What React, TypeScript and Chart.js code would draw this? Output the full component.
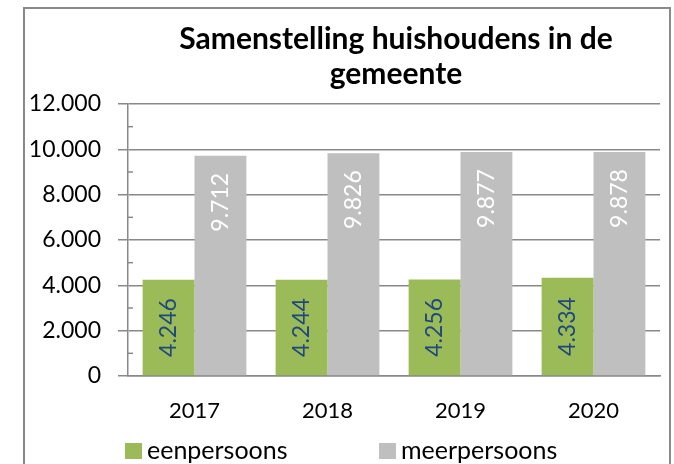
import React, { useEffect, useRef } from 'react';
import { Chart, registerables } from 'chart.js';

Chart.register(...registerables);

const categories = ['2017', '2018', '2019', '2020'];
const eenpersoons = [4246, 4244, 4256, 4334];
const meerpersoons = [9712, 9826, 9877, 9878];
const seriesLabels = ['eenpersoons', 'meerpersoons'];
const titleLines = ['Samenstelling huishoudens in de', 'gemeente'];
const yMin = 0;
const yMax = 12000;
const yStep = 2000;

const FONT = 'Lato, "Noto Sans", sans-serif';
const GREEN = '#9BBB59';
const GREY = '#BFBFBF';
const AXIS = '#898989';

const fmt = (v: number) => String(v).replace(/\B(?=(\d{3})+(?!\d))/g, '.');

const titlePlugin = {
  id: 'customTitle',
  afterDraw(chart: any) {
    const { ctx, chartArea } = chart;
    ctx.save();
    ctx.font = `bold 30px ${FONT}`;
    ctx.fillStyle = '#000';
    ctx.textAlign = 'center';
    ctx.textBaseline = 'alphabetic';
    const cx = (chartArea.left + chartArea.right) / 2 + 2;
    ctx.fillText(titleLines[0], cx, 49);
    ctx.fillText(titleLines[1], cx, 84);
    ctx.restore();
  },
};

const minorTickPlugin = {
  id: 'minorTicks',
  afterDraw(chart: any) {
    const { ctx } = chart;
    const y = chart.scales.y;
    ctx.save();
    ctx.strokeStyle = AXIS;
    ctx.lineWidth = 1.5;
    for (let v = yMin + yStep / 2; v < yMax; v += yStep) {
      const py = y.getPixelForValue(v);
      ctx.beginPath();
      ctx.moveTo(y.right, py);
      ctx.lineTo(y.right + 5, py);
      ctx.stroke();
    }
    ctx.restore();
  },
};

const valueLabelPlugin = {
  id: 'valueLabels',
  afterDatasetsDraw(chart: any) {
    const { ctx } = chart;
    ctx.save();
    ctx.font = `23px ${FONT}`;
    ctx.textBaseline = 'middle';
    chart.data.datasets.forEach((ds: any, di: number) => {
      const meta = chart.getDatasetMeta(di);
      meta.data.forEach((bar: any, i: number) => {
        const text = fmt(ds.data[i]);
        ctx.save();
        if (di === 0) {
          ctx.fillStyle = '#1F497D';
          ctx.translate(bar.x, (bar.y + bar.base) / 2);
          ctx.rotate(-Math.PI / 2);
          ctx.textAlign = 'center';
        } else {
          ctx.fillStyle = '#FFFFFF';
          ctx.translate(bar.x, bar.y + 17);
          ctx.rotate(-Math.PI / 2);
          ctx.textAlign = 'right';
        }
        ctx.fillText(text, 0, 0);
        ctx.restore();
      });
    });
    ctx.restore();
  },
};

const legendPlugin = {
  id: 'customLegend',
  afterDraw(chart: any) {
    const { ctx } = chart;
    ctx.save();
    ctx.font = `25px ${FONT}`;
    ctx.textAlign = 'left';
    ctx.textBaseline = 'alphabetic';
    chart.data.datasets.forEach((ds: any, i: number) => {
      const x0 = 125 + i * 254;
      ctx.fillStyle = ds.backgroundColor;
      ctx.fillRect(x0, 443, 17, 16);
      ctx.fillStyle = '#000';
      ctx.fillText(ds.label, x0 + 22, 459);
    });
    ctx.restore();
  },
};

export default function App() {
  const ref = useRef<HTMLCanvasElement>(null);

  useEffect(() => {
    if (!ref.current) return;
    const chart = new Chart(ref.current, {
      type: 'bar',
      data: {
        labels: categories,
        datasets: [
          { label: seriesLabels[0], data: eenpersoons, backgroundColor: GREEN, borderWidth: 0 },
          { label: seriesLabels[1], data: meerpersoons, backgroundColor: GREY, borderWidth: 0 },
        ],
      },
      options: {
        responsive: false,
        animation: false,
        devicePixelRatio: 1,
        layout: { padding: { left: 24, right: 14, top: 104, bottom: 38 } },
        plugins: {
          legend: { display: false },
          title: { display: false },
          tooltip: { enabled: false },
        },
        datasets: { bar: { categoryPercentage: 0.78, barPercentage: 1 } },
        scales: {
          x: {
            grid: { color: 'transparent', drawTicks: false },
            border: { display: true, color: AXIS, width: 1.5 },
            ticks: { color: '#000', font: { family: FONT, size: 22 }, padding: 22 },
            afterFit(scale: any) { scale.height = 50; },
          },
          y: {
            min: yMin,
            max: yMax,
            ticks: {
              stepSize: yStep,
              color: '#000',
              font: { family: FONT, size: 23 },
              padding: 17,
              callback: (v: any) => fmt(Number(v)),
            },
            grid: { color: AXIS, lineWidth: 1.5, tickLength: 10, drawTicks: true },
            border: { display: true, color: AXIS, width: 1.5 },
            afterFit(scale: any) { scale.width = 104; },
          },
        },
      },
      plugins: [titlePlugin, minorTickPlugin, valueLabelPlugin, legendPlugin],
    });
    return () => chart.destroy();
  }, []);

  return (
    <div style={{ position: 'fixed', left: 0, top: 0, width: 674, height: 464, background: '#fff', overflow: 'hidden' }}>
      <canvas ref={ref} width={674} height={464} style={{ display: 'block', width: 674, height: 464 }} />
      <div
        style={{
          position: 'absolute', left: 23, top: 7, width: 648, height: 480,
          border: '2px solid #8a8a8a', boxSizing: 'border-box', pointerEvents: 'none',
        }}
      />
    </div>
  );
}
